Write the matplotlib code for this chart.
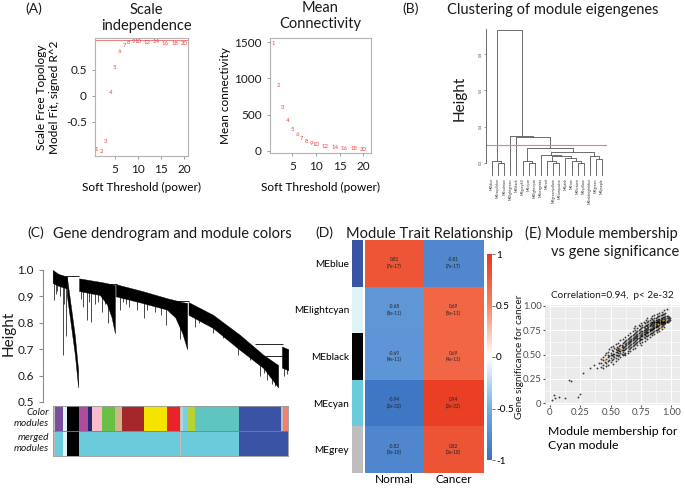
import numpy as np
import matplotlib
matplotlib.use('Agg')
import matplotlib.pyplot as plt
from matplotlib.colors import LinearSegmentedColormap

plt.rcParams['font.family'] = ['Lato', 'DejaVu Sans']
plt.rcParams['text.color'] = '#1a1a1a'

# ---------------- data ----------------
# (A) soft threshold
powers = [1, 2, 3, 4, 5, 6, 7, 8, 9, 10, 12, 14, 16, 18, 20]
sft_fit = [-1.02, -1.06, -0.87, 0.06, 0.54, 0.85, 0.98, 1.02, 1.04, 1.04, 1.02, 1.04, 1.0, 1.0, 1.0]
fit_cut = 1.08
mean_k = [1480, 900, 600, 420, 300, 220, 170, 130, 105, 85, 60, 45, 35, 28, 22]

# (B) eigengene dendrogram (leaf order, merges as in hclust: ids >= n are merges)
me_names = ['MEblue', 'MEroyalblue', 'MEsalmon', 'MElightgreen', 'MEblack', 'MEgrey60', 'MEcyan',
            'MElightcyan', 'MEmagenta', 'MEred', 'MEgreenyellow', 'MEturquoise', 'MEpink', 'MEtan',
            'MEbrown', 'MEyellow', 'MEmidnightblue', 'MEgreen', 'MEpurple']
me_merges = [(1, 2, 0.20), (0, 19, 0.21), (6, 7, 0.20), (5, 21, 0.21), (10, 11, 0.20), (9, 23, 0.21),
             (14, 15, 0.20), (13, 25, 0.21), (12, 26, 0.225), (24, 27, 0.235), (8, 28, 0.245),
             (17, 18, 0.22), (16, 30, 0.24), (29, 31, 0.26), (22, 32, 0.28), (4, 33, 0.34),
             (3, 34, 0.35), (20, 35, 0.93)]
me_cut = 0.30

# (C) gene dendrogram, clusters in gene order with top / bottom heights
clu_pos = [[0, 120, 300], [300, 470, 540], [560, 1000, 1150, 1250, 1320],
           [1340, 1900, 2420, 2600, 2750, 2850], [2880, 3400, 3970, 4470, 4780], [4860, 4995]]
clu_top = [[1.0, 0.985, 0.975], [0.975, 0.75, 0.62], [0.968, 0.955, 0.95, 0.945, 0.943],
           [0.946, 0.92, 0.893, 0.885, 0.878, 0.875], [0.878, 0.83, 0.754, 0.678, 0.64], [0.71, 0.70]]
clu_bot = [[0.95, 0.94, 0.93], [0.905, 0.68, 0.555], [0.92, 0.905, 0.87, 0.82, 0.76],
           [0.90, 0.875, 0.85, 0.82, 0.76, 0.70], [0.83, 0.78, 0.697, 0.628, 0.555], [0.63, 0.62]]
join_from = [260, 1060, 2420, 4290, 4500]
join_to = [560, 1360, 2890, 4875, 4855]
join_h = [0.978, 0.946, 0.883, 0.718, 0.675]
drop_pos = [28, 60, 100, 150, 210, 240, 282, 600, 650, 720, 760, 805, 900, 960, 1038, 1100, 1180,
            1427, 1500, 1560, 1625, 1780, 1935, 2000, 2170, 2300, 2395, 2700, 3017, 3100, 3200,
            3400, 3617, 3800, 3935, 4040, 4180, 4300, 4400, 4480, 4550, 4600, 4650, 4720, 4783,
            4830, 4900, 4960]
drop_low = [0.886, 0.91, 0.92, 0.90, 0.678, 0.87, 0.748, 0.89, 0.861, 0.81, 0.88, 0.804, 0.87,
            0.88, 0.842, 0.87, 0.80, 0.848, 0.88, 0.87, 0.86, 0.85, 0.817, 0.85, 0.84, 0.83, 0.79,
            0.74, 0.785, 0.80, 0.80, 0.76, 0.741, 0.73, 0.678, 0.69, 0.66, 0.65, 0.60, 0.61, 0.585,
            0.60, 0.57, 0.56, 0.527, 0.55, 0.60, 0.605]

mod_colors = ['#bebebe', '#7b4fa0', '#e0f4f8', '#000000', '#b04a9c', '#27296d', '#f8bccb', '#6abf45',
              '#d2b48c', '#a4282b', '#f5e400', '#e8242a', '#bebebe', '#a8d8e0', '#7ccfe0', '#b5d334',
              '#5fc5c0', '#3a53a4', '#bebebe', '#f47f6b']
merged_colors = ['#bebebe', '#6ccbdb', '#e0f4f8', '#000000', '#6ccbdb', '#6ccbdb', '#6ccbdb', '#6ccbdb',
                 '#6ccbdb', '#6ccbdb', '#6ccbdb', '#6ccbdb', '#bebebe', '#6ccbdb', '#6ccbdb', '#6ccbdb',
                 '#6ccbdb', '#3a53a4', '#3a53a4', '#3a53a4']
mod_sizes = [50, 175, 70, 260, 200, 70, 225, 270, 140, 480, 475, 280, 30, 40, 95, 155, 940, 880, 40, 120]

# (D) module-trait correlations
traits = ['Normal', 'Cancer']
me_rows = ['MEblue', 'MElightcyan', 'MEblack', 'MEcyan', 'MEgrey']
me_row_colors = ['#3a53a4', '#e0f4f8', '#000000', '#6ccbdb', '#bebebe']
cor_normal = [0.81, -0.68, -0.69, -0.94, -0.82]
cor_cancer = [-0.81, 0.69, 0.69, 0.94, 0.82]
pvals = ['7e-17', '8e-11', '4e-11', '2e-32', '3e-18']

# (E) module membership vs gene significance (cyan module)
mm_tail = [0.014, 0.03, 0.04, 0.077, 0.124, 0.16, 0.17, 0.23, 0.25, 0.27, 0.33, 0.36, 0.39, 0.40]
gs_tail = [0.03, 0.08, 0.05, 0.065, 0.055, 0.24, 0.23, 0.065, 0.09, 0.31, 0.36, 0.39, 0.36, 0.41]
mm_cols = [0.42, 0.44, 0.45, 0.46, 0.48, 0.49, 0.50, 0.51, 0.52, 0.53, 0.54, 0.55, 0.56, 0.57, 0.58,
           0.59, 0.60, 0.61, 0.62, 0.63, 0.64, 0.65, 0.66, 0.67, 0.68, 0.69, 0.70, 0.71, 0.72, 0.73,
           0.74, 0.75, 0.76, 0.77, 0.78, 0.79, 0.80, 0.81, 0.82, 0.83, 0.84, 0.85, 0.86, 0.87, 0.88,
           0.89, 0.90, 0.91, 0.92, 0.93, 0.94, 0.95, 0.96, 0.97, 0.98, 0.99]
gs_cols = [[0.41, 0.37, 0.45], [0.44, 0.39, 0.47, 0.36], [0.42, 0.50], [0.45, 0.38, 0.52, 0.41],
           [0.47, 0.43, 0.53, 0.39, 0.50], [0.48, 0.56, 0.44], [0.46, 0.52, 0.42, 0.58, 0.49],
           [0.50, 0.44, 0.55], [0.48, 0.54, 0.45, 0.59, 0.40, 0.51], [0.51, 0.47, 0.57],
           [0.50, 0.56, 0.46, 0.61, 0.43, 0.53], [0.53, 0.49, 0.58, 0.55],
           [0.52, 0.55, 0.48, 0.62, 0.45, 0.57], [0.54, 0.59, 0.50, 0.56],
           [0.56, 0.52, 0.60, 0.47, 0.65, 0.54], [0.55, 0.60, 0.51, 0.58],
           [0.57, 0.53, 0.62, 0.49, 0.66, 0.59, 0.55], [0.58, 0.55, 0.63, 0.51],
           [0.59, 0.56, 0.64, 0.52, 0.68, 0.50, 0.61], [0.60, 0.57, 0.65, 0.62],
           [0.61, 0.58, 0.66, 0.54, 0.70, 0.52, 0.63], [0.62, 0.59, 0.67, 0.56, 0.64],
           [0.63, 0.60, 0.68, 0.57, 0.72, 0.54, 0.65], [0.64, 0.61, 0.69, 0.58, 0.66],
           [0.65, 0.62, 0.70, 0.59, 0.74, 0.56, 0.67], [0.66, 0.63, 0.71, 0.60, 0.68, 0.77],
           [0.67, 0.64, 0.72, 0.61, 0.75, 0.57, 0.69, 0.79], [0.68, 0.65, 0.73, 0.62, 0.70],
           [0.69, 0.66, 0.74, 0.63, 0.77, 0.60, 0.71, 0.67], [0.70, 0.67, 0.75, 0.64, 0.72, 0.80],
           [0.70, 0.68, 0.76, 0.65, 0.79, 0.62, 0.73, 0.66], [0.71, 0.69, 0.77, 0.66, 0.74, 0.82, 0.60],
           [0.72, 0.69, 0.78, 0.66, 0.80, 0.63, 0.74, 0.70], [0.73, 0.71, 0.78, 0.68, 0.75, 0.84],
           [0.73, 0.71, 0.79, 0.67, 0.82, 0.64, 0.75, 0.70, 0.77], [0.74, 0.72, 0.80, 0.69, 0.76, 0.86],
           [0.75, 0.72, 0.80, 0.69, 0.84, 0.66, 0.77, 0.73, 0.79, 0.88],
           [0.76, 0.73, 0.81, 0.70, 0.78, 0.85],
           [0.76, 0.74, 0.82, 0.71, 0.86, 0.68, 0.79, 0.75, 0.80],
           [0.77, 0.75, 0.83, 0.72, 0.79, 0.88, 0.81],
           [0.78, 0.75, 0.83, 0.72, 0.87, 0.70, 0.80, 0.76, 0.82, 0.90],
           [0.79, 0.76, 0.84, 0.73, 0.81, 0.86, 0.77],
           [0.80, 0.77, 0.85, 0.74, 0.88, 0.71, 0.82, 0.78, 0.83, 0.91],
           [0.81, 0.78, 0.86, 0.75, 0.83, 0.88, 0.79, 0.84],
           [0.81, 0.78, 0.86, 0.75, 0.89, 0.73, 0.83, 0.79, 0.84, 0.92, 0.80],
           [0.82, 0.79, 0.87, 0.76, 0.84, 0.90, 0.80, 0.85],
           [0.83, 0.80, 0.87, 0.77, 0.90, 0.74, 0.84, 0.81, 0.86, 0.93, 0.82],
           [0.83, 0.81, 0.88, 0.78, 0.85, 0.91, 0.82, 0.86],
           [0.84, 0.81, 0.88, 0.79, 0.91, 0.76, 0.86, 0.83, 0.87, 0.94],
           [0.85, 0.82, 0.89, 0.80, 0.87, 0.92, 0.84],
           [0.85, 0.83, 0.89, 0.81, 0.92, 0.78, 0.87, 0.84, 0.96],
           [0.86, 0.84, 0.90, 0.82, 0.88, 0.93], [0.87, 0.85, 0.90, 0.83, 0.88, 0.97],
           [0.86, 0.88, 0.84, 0.90], [0.87, 0.89, 0.85], [0.88, 0.86]]
mm_hub = [0.45, 0.58, 0.73, 0.83, 0.89, 0.93, 0.96, 0.91]
gs_hub = [0.44, 0.56, 0.70, 0.78, 0.81, 0.86, 0.87, 0.77]

# ---------------- figure ----------------
W, H = 685, 488
fig = plt.figure(figsize=(W / 100, H / 100), dpi=100)


def px_axes(x0, y0, x1, y1):
    return fig.add_axes([x0 / W, 1 - y1 / H, (x1 - x0) / W, (y1 - y0) / H])


def px_text(x, y, s, **kw):
    return fig.text(x / W, 1 - y / H, s, **kw)


def r_box(ax):
    for sp in ax.spines.values():
        sp.set_color('#b3b3b3')
        sp.set_linewidth(0.8)
    ax.tick_params(colors='#8c8c8c', labelcolor='#1a1a1a', labelsize=8.5, length=2.5, width=0.6)


RED = '#ee4040'

# (A) scale independence
ax = px_axes(95, 38, 188, 156)
ax.set_xlim(0.7, 20.9)
ax.set_ylim(-1.154, 1.115)
for p, v in zip(powers, sft_fit):
    ax.text(p, v, str(p), color=RED, fontsize=4.3, ha='center', va='center')
ax.axhline(fit_cut, color=RED, lw=0.6, alpha=0.8)
ax.set_xticks([5, 10, 15, 20])
ax.set_yticks([-0.5, 0, 0.5])
ax.set_yticklabels(['-0.5', '0', '0.5'])
r_box(ax)
ax.set_xlabel('Soft Threshold (power)', fontsize=8.5, labelpad=5)
ax.set_ylabel('Scale Free Topology\nModel Fit, signed R^2', fontsize=8.5, labelpad=4, linespacing=1.3)
px_text(146, 18, 'Scale\nindependence', fontsize=10.5, ha='center', va='center', linespacing=1.25)
px_text(25, 9, '(A)', fontsize=10, ha='left', va='center')

# (A) mean connectivity
ax = px_axes(270, 38, 371, 153)
ax.set_xlim(0.3, 21.6)
ax.set_ylim(-28, 1556)
for p, v in zip(powers, mean_k):
    ax.text(p, v, str(p), color=RED, fontsize=4.3, ha='center', va='center')
ax.set_xticks([5, 10, 15, 20])
ax.set_yticks([0, 500, 1000, 1500])
r_box(ax)
ax.set_xlabel('Soft Threshold (power)', fontsize=8.5, labelpad=7)
ax.set_ylabel('Mean connectivity', fontsize=8.5, labelpad=2)
px_text(320, 16, 'Mean\nConnectivity', fontsize=10.5, ha='center', va='center', linespacing=1.25)

# (B) clustering of module eigengenes
px_text(402, 9, '(B)', fontsize=10, ha='left', va='center')
px_text(447, 10, 'Clustering of module eigengenes', fontsize=10.5, ha='left', va='center')
ax = px_axes(486, 25, 607, 190)
n = len(me_names)
node_x = list(range(n))
node_h = [0.13] * n
for a, b, h in me_merges:
    ax.plot([node_x[a], node_x[a], node_x[b], node_x[b]], [node_h[a], h, h, node_h[b]],
            color='#555555', lw=0.6)
    node_x.append((node_x[a] + node_x[b]) / 2)
    node_h.append(h)
ax.axhline(me_cut, color='#e8806e', lw=0.8)
for i, name in enumerate(me_names):
    ax.text(i, 0.115, name, rotation=90, fontsize=2.6, ha='center', va='top', color='#333333')
ax.set_xlim(-0.98, 18.8)
ax.set_ylim(0.05, 0.96)
for s in ['top', 'right', 'bottom']:
    ax.spines[s].set_visible(False)
ax.spines['left'].set_bounds(0.2, 0.94)
ax.spines['left'].set_color('#555555')
ax.spines['left'].set_linewidth(0.6)
ax.set_xticks([])
ax.set_yticks([0.2, 0.4, 0.6, 0.8])
ax.set_yticklabels(['0.2', '0.4', '0.6', '0.8'], rotation=90, va='center')
ax.tick_params(axis='y', labelsize=2.8, length=1.5, width=0.4, colors='#555555', pad=1)
px_text(460, 98, 'Height', fontsize=11, rotation=90, ha='center', va='center')

# (C) gene dendrogram
px_text(27, 233, '(C)', fontsize=10, ha='left', va='center')
px_text(53, 234, 'Gene dendrogram and module colors', fontsize=10.5, ha='left', va='center')
ax = px_axes(43, 262, 289, 402)
ax.set_xlim(-205, 5010)
ax.set_ylim(0.5, 1.03)
for g, t, b in zip(clu_pos, clu_top, clu_bot):
    ax.fill_between(g, t, b, color='black', lw=0.3, edgecolor='black')
ax.hlines(join_h, join_from, join_to, color='black', lw=0.6)
for g, lo in zip(drop_pos, drop_low):
    for pos, bot in zip(clu_pos, clu_bot):
        if pos[0] <= g <= pos[-1]:
            ax.vlines(g, lo, np.interp(g, pos, bot) + 0.01, color='black', lw=0.5)
for s in ['top', 'right', 'bottom']:
    ax.spines[s].set_visible(False)
ax.spines['left'].set_bounds(0.5, 1.0)
ax.spines['left'].set_color('#8c8c8c')
ax.set_xticks([])
ax.set_yticks([0.5, 0.6, 0.7, 0.8, 0.9, 1.0])
ax.tick_params(axis='y', labelsize=8.5, colors='#8c8c8c', labelcolor='#1a1a1a', length=3)
px_text(9, 333, 'Height', fontsize=11, rotation=90, ha='center', va='center')

ax = px_axes(52.7, 406, 288.3, 456)
edges = np.concatenate([[0], np.cumsum(mod_sizes)])
for i in range(len(mod_sizes)):
    ax.barh(1.5, mod_sizes[i], left=edges[i], height=1, color=mod_colors[i], lw=0)
    ax.barh(0.5, mod_sizes[i], left=edges[i], height=1, color=merged_colors[i], lw=0)
ax.axhline(1, color='#7f7f7f', lw=0.6)
ax.set_xlim(0, edges[-1])
ax.set_ylim(0, 2)
ax.set_xticks([])
ax.set_yticks([])
for sp in ax.spines.values():
    sp.set_color('#9a9a9a')
    sp.set_linewidth(0.6)
px_text(49, 418, 'Color\nmodules', fontsize=7.3, style='italic', ha='right', va='center', linespacing=1.2)
px_text(49, 443, 'merged\nmodules', fontsize=7.3, style='italic', ha='right', va='center', linespacing=1.2)

# (D) module trait relationship
px_text(315, 233, '(D)', fontsize=10, ha='left', va='center')
px_text(346, 234, 'Module Trait Relationship', fontsize=10.5, ha='left', va='center')
heat_cmap = LinearSegmentedColormap.from_list(
    'bwr', [(0, '#3a71c2'), (0.25, '#75ade3'), (0.5, '#ffffff'), (0.75, '#f8845f'), (1, '#e8381e')])
cor = np.array([cor_normal, cor_cancer]).T
ax = px_axes(365, 240, 483, 473)
im = ax.imshow(cor, cmap=heat_cmap, vmin=-1, vmax=1, aspect='auto')
for i in range(len(me_rows)):
    for j in range(len(traits)):
        ax.text(j, i, '%.2f\n(%s)' % (cor[i, j], pvals[i]), fontsize=3.3, ha='center', va='center',
                color='#222222', linespacing=1.3)
ax.set_xticks(range(len(traits)))
ax.set_xticklabels(traits, fontsize=8.5)
ax.set_yticks([])
ax.tick_params(axis='x', length=0, pad=0.5)
for sp in ax.spines.values():
    sp.set_visible(False)

ax = px_axes(352, 240, 363, 473)
ax.imshow(np.arange(len(me_rows)).reshape(-1, 1),
          cmap=matplotlib.colors.ListedColormap(me_row_colors), aspect='auto')
ax.set_xticks([])
ax.set_yticks(range(len(me_rows)))
ax.set_yticklabels(me_rows, fontsize=7.3)
ax.tick_params(axis='y', length=0, pad=2)
for sp in ax.spines.values():
    sp.set_visible(False)

cax = px_axes(487, 254, 492, 460)
cb = fig.colorbar(im, cax=cax, ticks=[-1, -0.5, 0, 0.5, 1])
cb.ax.set_yticklabels(['-1', '-0.5', '0', '0.5', '1'])
cb.ax.tick_params(labelsize=7.2, length=2, width=0.6, color='#555555', pad=1)
cb.outline.set_visible(False)

# (E) module membership vs gene significance
px_text(525, 233, '(E) Module membership', fontsize=10.5, ha='left', va='center')
px_text(615, 252, 'vs gene significance', fontsize=10.5, ha='center', va='center')
px_text(612, 295, 'Correlation=0.94,  p< 2e-32', fontsize=7.2, ha='center', va='center')
mm = list(mm_tail)
gs = list(gs_tail)
for x, ys in zip(mm_cols, gs_cols):
    mm += [x] * len(ys)
    gs += ys
ax = px_axes(545, 305, 680, 405)
ax.set_facecolor('#ebebeb')
ax.scatter(mm, gs, s=1.8, c='black', alpha=0.75, lw=0, zorder=3)
ax.scatter(mm_hub, gs_hub, s=2.2, c='#e69f00', alpha=0.9, lw=0, zorder=4)
ax.set_xlim(-0.04, 1.07)
ax.set_ylim(-0.02, 1.01)
ax.set_xticks([0, 0.25, 0.5, 0.75, 1.0])
ax.set_xticklabels(['0', '0.25', '0.50', '0.75', '1.00'])
ax.set_yticks([0, 0.25, 0.5, 0.75, 1.0])
ax.set_yticklabels(['0', '0.25', '0.50', '0.75', '1.00'])
ax.set_xticks([0.125, 0.375, 0.625, 0.875], minor=True)
ax.set_yticks([0.125, 0.375, 0.625, 0.875], minor=True)
ax.grid(which='major', color='white', lw=0.8)
ax.grid(which='minor', color='white', lw=0.4)
ax.set_axisbelow(True)
ax.tick_params(which='both', labelsize=6.8, colors='#4d4d4d', length=1.5, pad=1)
ax.tick_params(which='minor', length=0)
for sp in ax.spines.values():
    sp.set_visible(False)
ax.set_xlabel('Module membership for\nCyan module', fontsize=8.8, ha='left', x=0.02, labelpad=6,
              linespacing=1.4)
px_text(519, 357, 'Gene significance for cancer', fontsize=7.2, rotation=90, ha='center', va='center')

fig.savefig('out.png', dpi=100)
